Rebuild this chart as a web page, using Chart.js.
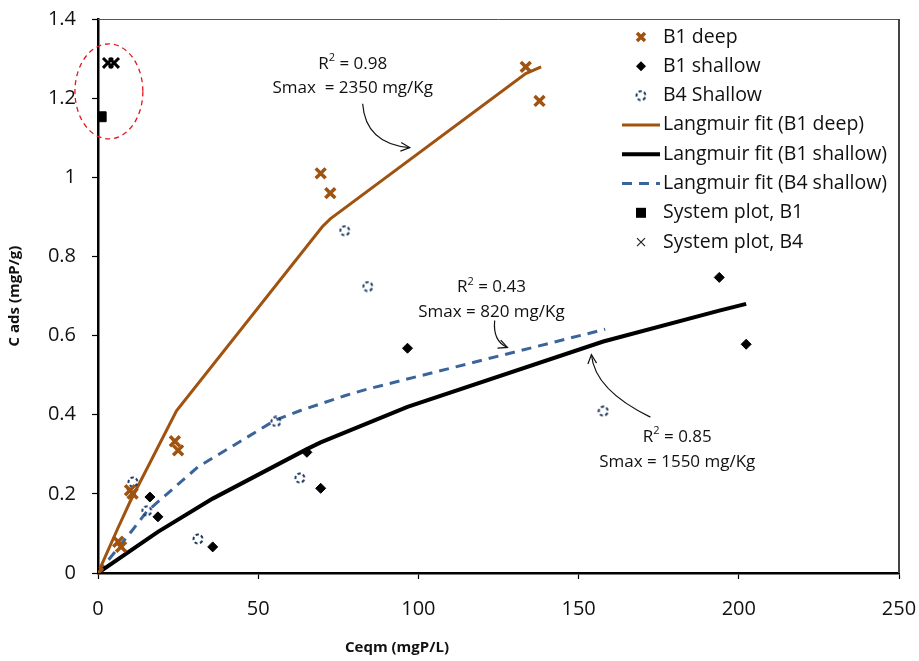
<!DOCTYPE html>
<html>
<head>
<meta charset="utf-8">
<script src="https://cdn.jsdelivr.net/npm/chart.js@4.4.0/dist/chart.umd.min.js"></script>
<style>
  html, body { margin: 0; padding: 0; background: #fff; }
  #wrap { width: 919px; height: 661px; }
</style>
</head>
<body>
<div id="wrap"><canvas id="isotherm" width="919" height="661"></canvas></div>
<script>
// measured sorption points (Ceqm in mgP/L, Cads in mgP/g)
const deepC = [0, 6.3, 7.2, 10, 10.8, 24, 25, 69.5, 72.5, 133.5, 137.8];
const deepS = [0, 0.079, 0.066, 0.209, 0.201, 0.333, 0.31, 1.01, 0.96, 1.279, 1.193];
const shallowC = [0, 16.2, 18.7, 35.8, 65.2, 69.5, 96.6, 193.9, 202.3];
const shallowS = [0, 0.192, 0.142, 0.066, 0.305, 0.214, 0.568, 0.747, 0.578];
const b4C = [0, 10.9, 15.2, 31.2, 55.5, 63, 77, 84.2, 157.7];
const b4S = [0, 0.23, 0.157, 0.086, 0.383, 0.24, 0.865, 0.724, 0.409];

// Langmuir fit curves
const deepFitC = [0, 6.3, 10, 24.5, 70, 72.5, 133.5, 138.3];
const deepFitS = [0, 0.115, 0.18, 0.41, 0.875, 0.895, 1.262, 1.279];
const shallowFitC = [0, 16.2, 18.7, 35.8, 65.2, 69.5, 96.6, 157.7, 193.9, 202.3];
const shallowFitS = [0, 0.09, 0.104, 0.188, 0.313, 0.33, 0.42, 0.585, 0.663, 0.68];
const b4FitC = [0, 10.9, 15.2, 31.2, 55.5, 63, 77, 84.2, 158.3];
const b4FitS = [0, 0.11, 0.155, 0.268, 0.387, 0.41, 0.448, 0.465, 0.616];

// system plots
const sysB1C = [1];
const sysB1S = [1.153];
const sysB4C = [3.1, 5];
const sysB4S = [1.289, 1.289];

const xTicks = [0, 50, 100, 150, 200, 250];
const yTicks = [0, 0.2, 0.4, 0.6, 0.8, 1, 1.2, 1.4];
const yTickLabels = ['0', '0.2', '0.4', '0.6', '0.8', '1', '1.2', '1.4'];

const legendLabels = ['B1 deep', 'B1 shallow', 'B4 Shallow', 'Langmuir fit (B1 deep)',
  'Langmuir fit (B1 shallow)', 'Langmuir fit (B4 shallow)', 'System plot, B1', 'System plot, B4'];

const BROWN = '#A0520F';
const NAVY = '#1F3B63';
const BLUE = '#3B659A';
const FONT = '"Open Sans", "Noto Sans", sans-serif';

const pairs = (xs, ys) => xs.map((x, i) => ({ x, y: ys[i] }));

// dashed open circle marker
function dashedCircle(size) {
  const c = document.createElement('canvas');
  c.width = size; c.height = size;
  const g = c.getContext('2d');
  g.strokeStyle = NAVY;
  g.lineWidth = 2;
  g.setLineDash([3.2, 2.3]);
  g.beginPath();
  g.arc(size / 2, size / 2, size / 2 - 1.5, 0.4, Math.PI * 2 + 0.4);
  g.stroke();
  return c;
}
const circleImg = dashedCircle(12);

const notes = [
  { c: 79.5, s1: 1.287, s2: 1.226, r2: '0.98', smax: 'Smax  = 2350 mg/Kg' },
  { c: 122.8, s1: 0.7215, s2: 0.658, r2: '0.43', smax: 'Smax = 820 mg/Kg' },
  { c: 180.8, s1: 0.343, s2: 0.28, r2: '0.85', smax: 'Smax = 1550 mg/Kg' }
];
const arrows = [
  { from: [82.6, 1.186], ctrl: [83.5, 1.085], to: [97.3, 1.075] },
  { from: [123.8, 0.638], ctrl: [123.2, 0.585], to: [127.8, 0.570] },
  { from: [172.4, 0.394], ctrl: [155.0, 0.462], to: [154.0, 0.552] }
];
const ring = { c: 3.4, s: 1.217, rc: 10.6, rs: 0.12 };

function drawR2(ctx, cx, cy, val) {
  const big = '17px ' + FONT, small = '11px ' + FONT;
  ctx.font = big;
  const wR = ctx.measureText('R').width;
  const wRest = ctx.measureText(' = ' + val).width;
  ctx.font = small;
  const w2 = ctx.measureText('2').width;
  let x = cx - (wR + w2 + wRest) / 2;
  ctx.textAlign = 'left';
  ctx.textBaseline = 'middle';
  ctx.font = big;
  ctx.fillText('R', x, cy);
  ctx.font = small;
  ctx.fillText('2', x + wR, cy - 6);
  ctx.font = big;
  ctx.fillText(' = ' + val, x + wR + w2, cy);
}

const extras = {
  id: 'extras',
  afterDatasetsDraw(chart) {
    const ctx = chart.ctx;
    const xs = chart.scales.x, ys = chart.scales.y;
    const px = v => xs.getPixelForValue(v), py = v => ys.getPixelForValue(v);
    const a = chart.chartArea;
    ctx.save();

    // frame top and right
    ctx.strokeStyle = '#555';
    ctx.lineWidth = 1;
    ctx.beginPath();
    ctx.moveTo(a.left, a.top + 0.5);
    ctx.lineTo(a.right, a.top + 0.5);
    ctx.stroke();
    ctx.lineWidth = 2;
    ctx.strokeStyle = '#444';
    ctx.beginPath();
    ctx.moveTo(a.right, a.top);
    ctx.lineTo(a.right, a.bottom);
    ctx.stroke();

    // red dashed ellipse round the system plots
    ctx.strokeStyle = '#E8141C';
    ctx.lineWidth = 1.3;
    ctx.setLineDash([5, 4]);
    ctx.beginPath();
    ctx.ellipse(px(ring.c), py(ring.s), px(ring.c + ring.rc) - px(ring.c),
      py(ring.s) - py(ring.s + ring.rs), 0, 0, Math.PI * 2);
    ctx.stroke();
    ctx.setLineDash([]);

    // annotation text
    ctx.fillStyle = '#111';
    notes.forEach(n => {
      drawR2(ctx, px(n.c), py(n.s1), n.r2);
      ctx.font = '17px ' + FONT;
      ctx.textAlign = 'center';
      ctx.fillText(n.smax, px(n.c), py(n.s2));
    });

    // curved arrows
    ctx.strokeStyle = '#111';
    ctx.lineWidth = 1.2;
    arrows.forEach(ar => {
      const x0 = px(ar.from[0]), y0 = py(ar.from[1]);
      const x1 = px(ar.ctrl[0]), y1 = py(ar.ctrl[1]);
      const x2 = px(ar.to[0]), y2 = py(ar.to[1]);
      ctx.beginPath();
      ctx.moveTo(x0, y0);
      ctx.quadraticCurveTo(x1, y1, x2, y2);
      ctx.stroke();
      const ang = Math.atan2(y2 - y1, x2 - x1);
      const h = 10;
      ctx.beginPath();
      ctx.moveTo(x2 - h * Math.cos(ang - 0.45), y2 - h * Math.sin(ang - 0.45));
      ctx.lineTo(x2, y2);
      ctx.lineTo(x2 - h * Math.cos(ang + 0.45), y2 - h * Math.sin(ang + 0.45));
      ctx.stroke();
    });

    // legend
    const mx = a.right - 258, tx = a.right - 236;
    const top = a.top + 18, step = 29.3;
    ctx.font = '19.5px ' + FONT;
    ctx.textAlign = 'left';
    ctx.textBaseline = 'middle';
    legendLabels.forEach((lab, i) => {
      const y = top + i * step;
      ctx.fillStyle = '#111';
      ctx.fillText(lab, tx, y);
      ctx.setLineDash([]);
      if (i === 0) {
        ctx.strokeStyle = BROWN; ctx.lineWidth = 3.5;
        ctx.beginPath();
        ctx.moveTo(mx - 4, y - 4); ctx.lineTo(mx + 4, y + 4);
        ctx.moveTo(mx + 4, y - 4); ctx.lineTo(mx - 4, y + 4);
        ctx.stroke();
      } else if (i === 1) {
        ctx.fillStyle = '#000';
        ctx.beginPath();
        ctx.moveTo(mx, y - 5); ctx.lineTo(mx + 5, y); ctx.lineTo(mx, y + 5); ctx.lineTo(mx - 5, y);
        ctx.closePath(); ctx.fill();
      } else if (i === 2) {
        ctx.drawImage(circleImg, mx - 6, y - 6);
      } else if (i >= 3 && i <= 5) {
        ctx.strokeStyle = [BROWN, '#000', BLUE][i - 3];
        ctx.lineWidth = [3, 4, 3][i - 3];
        if (i === 5) ctx.setLineDash([10, 7]);
        ctx.beginPath();
        ctx.moveTo(mx - 19, y); ctx.lineTo(mx + 19, y);
        ctx.stroke();
        ctx.setLineDash([]);
      } else if (i === 6) {
        ctx.fillStyle = '#000';
        ctx.fillRect(mx - 5, y - 5, 10, 10);
      } else {
        ctx.strokeStyle = '#222'; ctx.lineWidth = 1.2;
        ctx.beginPath();
        ctx.moveTo(mx - 4, y - 4); ctx.lineTo(mx + 4, y + 4);
        ctx.moveTo(mx + 4, y - 4); ctx.lineTo(mx - 4, y + 4);
        ctx.stroke();
      }
    });

    // x axis title
    ctx.fillStyle = '#111';
    ctx.font = 'bold 15px ' + FONT;
    ctx.textAlign = 'center';
    ctx.fillText('Ceqm (mgP/L)', 397, 648);
    ctx.restore();
  }
};

new Chart(document.getElementById('isotherm'), {
  type: 'scatter',
  data: {
    datasets: [
      { label: 'System plot, B4', data: pairs(sysB4C, sysB4S), pointStyle: 'crossRot',
        radius: 7, borderColor: '#000', borderWidth: 3 },
      { label: 'System plot, B1', data: pairs(sysB1C, sysB1S), pointStyle: 'rect',
        radius: 7, backgroundColor: '#000', borderColor: '#000', borderWidth: 1 },
      { label: 'B1 deep', data: pairs(deepC, deepS), pointStyle: 'crossRot',
        radius: 7, borderColor: BROWN, borderWidth: 3.5 },
      { label: 'B1 shallow', data: pairs(shallowC, shallowS), pointStyle: 'rectRot',
        radius: 5, backgroundColor: '#000', borderColor: '#000', borderWidth: 1 },
      { label: 'B4 Shallow', data: pairs(b4C, b4S), pointStyle: circleImg, radius: 6 },
      { label: 'Langmuir fit (B1 deep)', data: pairs(deepFitC, deepFitS), showLine: true,
        borderColor: BROWN, borderWidth: 3, pointRadius: 0, tension: 0 },
      { label: 'Langmuir fit (B1 shallow)', data: pairs(shallowFitC, shallowFitS), showLine: true,
        borderColor: '#000', borderWidth: 4, pointRadius: 0, tension: 0 },
      { label: 'Langmuir fit (B4 shallow)', data: pairs(b4FitC, b4FitS), showLine: true,
        borderColor: BLUE, borderWidth: 3, borderDash: [10, 7], pointRadius: 0, tension: 0 }
    ]
  },
  options: {
    responsive: false,
    animation: false,
    layout: { padding: { left: 0, right: 20, top: 19, bottom: 0 } },
    plugins: {
      legend: { display: false },
      tooltip: { enabled: false }
    },
    scales: {
      x: {
        type: 'linear', min: 0, max: 250,
        afterBuildTicks: s => { s.ticks = xTicks.map(v => ({ value: v })); },
        afterFit: s => { s.height = 88; s.paddingLeft = 0; s.paddingRight = 0; },
        grid: { drawOnChartArea: false, tickLength: 6, color: '#000', tickWidth: 1.2 },
        border: { color: '#000', width: 2.5 },
        ticks: { font: { family: FONT, size: 20 }, color: '#111', padding: 18 }
      },
      y: {
        type: 'linear', min: 0, max: 1.4,
        afterBuildTicks: s => { s.ticks = yTicks.map(v => ({ value: v })); },
        afterFit: s => { s.width = 98; s.paddingTop = 0; s.paddingBottom = 0; },
        grid: { drawOnChartArea: false, tickLength: 6, color: '#000', tickWidth: 1.2 },
        border: { color: '#000', width: 2.5 },
        ticks: {
          font: { family: FONT, size: 20 }, color: '#111', padding: 16,
          callback: (v, i) => yTickLabels[i]
        },
        title: {
          display: true, text: 'C ads (mgP/g)', color: '#111',
          font: { family: FONT, size: 15, weight: 'bold' }, padding: { top: 6, bottom: 0 }
        }
      }
    }
  },
  plugins: [extras]
});
</script>
</body>
</html>
